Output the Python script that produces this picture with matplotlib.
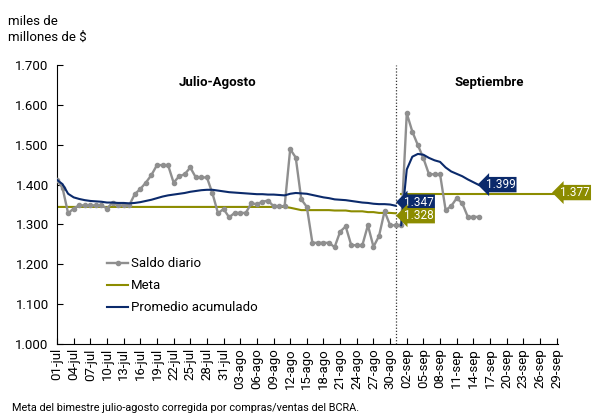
import numpy as np
import matplotlib
matplotlib.use("Agg")
import matplotlib.pyplot as plt
from matplotlib.ticker import FuncFormatter
from matplotlib.transforms import blended_transform_factory

plt.rcParams['font.family'] = ['Roboto', 'DejaVu Sans']

# day index 0 = 01-jul
saldo_diario = [
	1412, 1391, 1328, 1340, 1348, 1348, 1348, 1348, 1348, 1340,
	1355, 1348, 1348, 1348, 1376, 1389, 1405, 1424, 1449, 1449,
	1449, 1405, 1421, 1426, 1443, 1418, 1418, 1418, 1378, 1328,
	1339, 1318, 1329, 1329, 1329, 1353, 1351, 1357, 1360, 1346,
	1346, 1346, 1489, 1468, 1363, 1344, 1254, 1254, 1254, 1254,
	1243, 1282, 1295, 1248, 1248, 1248, 1298, 1244, 1271, 1333,
	1298, 1298, 1298, 1579, 1533, 1499, 1466, 1426, 1426, 1426,
	1336, 1346, 1366, 1353, 1319, 1319, 1319,
]

promedio_jul_ago = [
	1412, 1401, 1377, 1368, 1364, 1361, 1359, 1358, 1357, 1355,
	1355, 1354, 1354, 1353, 1354, 1356, 1359, 1362, 1366, 1370,
	1373, 1375, 1377, 1379, 1382, 1384, 1386, 1387, 1387, 1385,
	1383, 1381, 1380, 1379, 1378, 1377, 1376, 1376, 1375, 1375,
	1374, 1373, 1377, 1379, 1378, 1377, 1374, 1371, 1368, 1366,
	1363, 1362, 1361, 1359, 1357, 1355, 1354, 1352, 1351, 1351,
	1350, 1347,
]
promedio_sep = [
	1298, 1438, 1470, 1477, 1475, 1467, 1461, 1457, 1443, 1433,
	1427, 1421, 1413, 1406, 1399,
]

meta_jul_ago = [
	1344, 1344, 1344, 1344, 1344, 1344, 1344, 1344, 1344, 1344,
	1344, 1344, 1344, 1344, 1344, 1344, 1344, 1344, 1344, 1344,
	1344, 1344, 1344, 1344, 1344, 1344, 1344, 1344, 1344, 1344,
	1344, 1344, 1344, 1344, 1344, 1344, 1344, 1344, 1344, 1344,
	1344, 1344, 1342, 1339, 1336, 1336, 1336, 1336, 1336, 1336,
	1335, 1335, 1335, 1333, 1333, 1333, 1331, 1331, 1329, 1329,
	1329, 1328,
]
meta_sep = [
	1377, 1377, 1377, 1377, 1377, 1377, 1377, 1377, 1377, 1377,
	1377, 1377, 1377, 1377, 1377, 1377, 1377, 1377, 1377, 1377,
	1377, 1377, 1377, 1377, 1377, 1377, 1377, 1377, 1377, 1377,
]

tick_labels = [
	"01-jul", "04-jul", "07-jul", "10-jul", "13-jul", "16-jul", "19-jul",
	"22-jul", "25-jul", "28-jul", "31-jul", "03-ago", "06-ago", "09-ago",
	"12-ago", "15-ago", "18-ago", "21-ago", "24-ago", "27-ago", "30-ago",
	"02-sep", "05-sep", "08-sep", "11-sep", "14-sep", "17-sep", "20-sep",
	"23-sep", "26-sep", "29-sep",
]

gray = "#8f8f8f"
olive = "#8c8c00"
navy = "#0b2a6b"

sep_start = len(promedio_jul_ago)

fig = plt.figure(figsize=(5.94, 4.17), dpi=100)
ax = fig.add_axes([0.096, 0.175, 0.843, 0.669])

x_saldo = np.arange(len(saldo_diario))
ax.plot(x_saldo, saldo_diario, color=gray, lw=1.7, marker="o", ms=3.0,
	label="Saldo diario", zorder=3)
ax.plot(np.arange(len(meta_jul_ago)), meta_jul_ago, color=olive, lw=1.5,
	label="Meta", zorder=2)
ax.plot(sep_start + np.arange(len(meta_sep)), meta_sep, color=olive, lw=1.5,
	zorder=2, clip_on=False)
ax.plot(np.arange(len(promedio_jul_ago)), promedio_jul_ago, color=navy, lw=1.5,
	label="Promedio acumulado", zorder=4)
ax.plot(sep_start + np.arange(len(promedio_sep)), promedio_sep, color=navy,
	lw=1.5, zorder=4)

ax.axvline(61.1, color="#333333", lw=0.9, ls=(0, (1, 1.5)), zorder=1)

ax.set_ylim(1000, 1700)
ax.set_xlim(0, 90.2)
ax.set_yticks(np.arange(1000, 1701, 100))
ax.yaxis.set_major_formatter(FuncFormatter(lambda v, p: f"{v/1000:.3f}"))
ax.set_xticks(np.arange(0, 91, 3))
ax.set_xticklabels(tick_labels, rotation=90)
ax.tick_params(axis="both", direction="in", length=4, width=0.8,
	labelsize=9.5, colors="black")
ax.tick_params(axis="x", pad=3)
ax.tick_params(axis="y", pad=6)
for s in ["top", "right"]:
	ax.spines[s].set_visible(False)
for s in ["left", "bottom"]:
	ax.spines[s].set_linewidth(0.8)

ax.text(29, 1655, "Julio-Agosto", ha="center", va="center",
	fontsize=9.5, fontweight="bold")
ax.text(77.8, 1655, "Septiembre", ha="center", va="center",
	fontsize=9.5, fontweight="bold")

box_kw = dict(fontsize=8.5, color="white", va="center", zorder=6)
ax.text(77.2, 1400, "1.399", ha="left",
	bbox=dict(boxstyle="larrow,pad=0.1", fc=navy, ec="none"), **box_kw)
ax.text(62.5, 1356, "1.347", ha="left",
	bbox=dict(boxstyle="larrow,pad=0.1", fc=navy, ec="none"), **box_kw)
ax.text(62.5, 1322, "1.328", ha="left",
	bbox=dict(boxstyle="larrow,pad=0.1", fc=olive, ec="none"), **box_kw)
tr = blended_transform_factory(fig.transFigure, ax.transData)
ax.text(0.993, 1380, "1.377", ha="right", transform=tr, clip_on=False,
	bbox=dict(boxstyle="larrow,pad=0.1", fc=olive, ec="none"), **box_kw)

ax.legend(loc="upper left", bbox_to_anchor=(0.09, 0.33), frameon=False,
	fontsize=9.5, handlelength=1.6, handletextpad=0.2, labelspacing=0.68,
	borderaxespad=0)

fig.text(0.014, 0.965, "miles de\nmillones de $", fontsize=9.5, va="top",
	linespacing=1.3)
fig.text(0.02, 0.015, "Meta del bimestre julio-agosto corregida por compras/ventas del BCRA.",
	fontsize=7.8)

fig.savefig("out.png", dpi=100)
